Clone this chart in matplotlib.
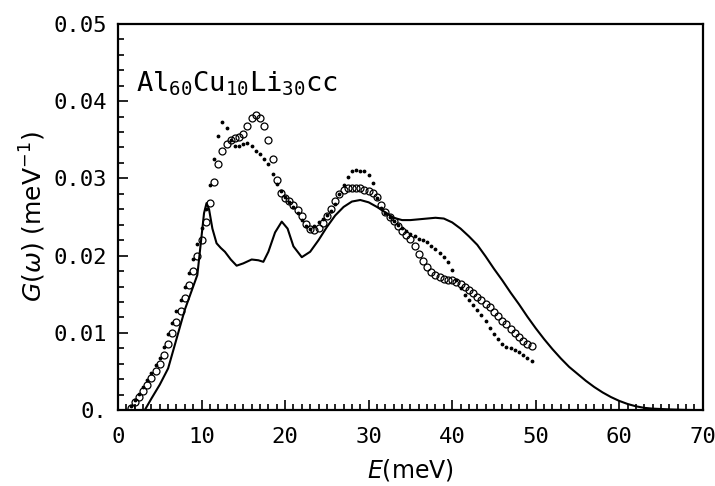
import numpy as np
import matplotlib.pyplot as plt
from matplotlib.ticker import MultipleLocator

# 计算曲线 (实线)
calc_E = [0, 3.2, 4, 5, 6, 7, 8, 8.5, 9, 9.5, 10, 10.3, 10.6, 10.9, 11.3, 11.8, 12.3, 12.8,
          13.5, 14.2, 15, 16, 16.8, 17.4, 18, 18.8, 19.6, 20.3, 21, 22, 23, 24, 25, 26, 27, 28,
          29, 30, 31, 32, 33, 34, 35, 36, 37, 38, 39, 40, 41, 42, 43, 44, 45, 46, 47, 48, 49,
          50, 51, 52, 53, 54, 55, 56, 57, 58, 59, 60, 61, 62, 63, 64, 66, 68, 70]
calc_G = [0, 0, 0.0015, 0.0033, 0.0054, 0.0092, 0.013, 0.0145, 0.016, 0.0175, 0.0225,
          0.0255, 0.0268, 0.026, 0.0235, 0.0216, 0.021, 0.0205, 0.0195, 0.0187, 0.019, 0.0195,
          0.0194, 0.0192, 0.0205, 0.023, 0.0244, 0.0235, 0.0212, 0.0198, 0.0205, 0.022, 0.0237,
          0.0252, 0.0263, 0.027, 0.0272, 0.0269, 0.0263, 0.0256, 0.0249, 0.0246, 0.0246, 0.0247,
          0.0248, 0.0249, 0.0248, 0.0243, 0.0235, 0.0225, 0.0214, 0.0199, 0.0183, 0.0168,
          0.0152, 0.0137, 0.0121, 0.0106, 0.0092, 0.0079, 0.0067, 0.0056, 0.0047, 0.0038,
          0.003, 0.0023, 0.0017, 0.0012, 0.0008, 0.0005, 0.0003, 0.0002, 0.0001, 0.00003, 0]

# 实验点 (实心小点)
dot_E = [1.0, 1.5, 2.0, 2.5, 3.0, 3.5, 4.0, 4.5, 5.0, 5.5, 6.0, 6.5, 7.0, 7.5, 8.0, 8.5, 9.0,
         9.5, 10.0, 10.5, 11.0, 11.5, 12.0, 12.5, 13.0, 13.5, 14.0, 14.5, 15.0, 15.5, 16.0,
         16.5, 17.0, 17.5, 18.0, 18.5, 19.0, 19.5, 20.0, 20.5, 21.0, 21.5, 22.0, 22.5, 23.0,
         23.5, 24.0, 24.5, 25.0, 25.5, 26.0, 26.5, 27.0, 27.5, 28.0, 28.5, 29.0, 29.5, 30.0,
         30.5, 31.0, 31.5, 32.0, 32.5, 33.0, 33.5, 34.0, 34.5, 35.0, 35.5, 36.0, 36.5, 37.0,
         37.5, 38.0, 38.5, 39.0, 39.5, 40.0, 40.5, 41.0, 41.5, 42.0, 42.5, 43.0, 43.5, 44.0,
         44.5, 45.0, 45.5, 46.0, 46.5, 47.0, 47.5, 48.0, 48.5, 49.0, 49.5]
dot_G = [0.0, 0.0006, 0.0013, 0.0021, 0.003, 0.0039, 0.0048, 0.0058, 0.0068, 0.0082, 0.0098,
         0.0113, 0.0128, 0.0143, 0.016, 0.0177, 0.0195, 0.0215, 0.0236, 0.026, 0.0292, 0.0325,
         0.0355, 0.0373, 0.0365, 0.035, 0.0342, 0.0342, 0.0345, 0.0346, 0.0342, 0.0336, 0.0331,
         0.0325, 0.0318, 0.0306, 0.0293, 0.0283, 0.0276, 0.027, 0.0263, 0.0255, 0.0246, 0.0238,
         0.0235, 0.0238, 0.0243, 0.0248, 0.0252, 0.0258, 0.0267, 0.028, 0.0292, 0.0302, 0.0309,
         0.0311, 0.031, 0.0309, 0.0304, 0.0294, 0.0275, 0.0262, 0.0255, 0.025, 0.0245, 0.024,
         0.0236, 0.0232, 0.0228, 0.0225, 0.0222, 0.022, 0.0217, 0.0213, 0.0208, 0.0203, 0.0198,
         0.0192, 0.0182, 0.0168, 0.0158, 0.0149, 0.0142, 0.0136, 0.013, 0.0123, 0.0115, 0.0106,
         0.0098, 0.0092, 0.0086, 0.0082, 0.008, 0.0078, 0.0075, 0.0071, 0.0067, 0.0064]

# 实验点 (空心圆)
circ_E = [1.5, 2.0, 2.5, 3.0, 3.5, 4.0, 4.5, 5.0, 5.5, 6.0, 6.5, 7.0, 7.5, 8.0, 8.5, 9.0, 9.5,
          10.0, 10.5, 11.0, 11.5, 12.0, 12.5, 13.0, 13.5, 14.0, 14.5, 15.0, 15.5, 16.0, 16.5,
          17.0, 17.5, 18.0, 18.5, 19.0, 19.5, 20.0, 20.5, 21.0, 21.5, 22.0, 22.5, 23.0, 23.5,
          24.0, 24.5, 25.0, 25.5, 26.0, 26.5, 27.0, 27.5, 28.0, 28.5, 29.0, 29.5, 30.0, 30.5,
          31.0, 31.5, 32.0, 32.5, 33.0, 33.5, 34.0, 34.5, 35.0, 35.5, 36.0, 36.5, 37.0, 37.5,
          38.0, 38.5, 39.0, 39.5, 40.0, 40.5, 41.0, 41.5, 42.0, 42.5, 43.0, 43.5, 44.0, 44.5,
          45.0, 45.5, 46.0, 46.5, 47.0, 47.5, 48.0, 48.5, 49.0, 49.5]
circ_G = [0.0003, 0.001, 0.0017, 0.0025, 0.0033, 0.0042, 0.0051, 0.006, 0.0072, 0.0086, 0.01,
          0.0114, 0.0129, 0.0145, 0.0162, 0.018, 0.0199, 0.022, 0.0243, 0.0268, 0.0295, 0.0318,
          0.0335, 0.0345, 0.035, 0.0352, 0.0353, 0.0358, 0.0368, 0.0378, 0.0382, 0.0378, 0.0368,
          0.035, 0.0325, 0.0298, 0.0281, 0.0275, 0.0271, 0.0266, 0.0259, 0.0251, 0.0241, 0.0234,
          0.0233, 0.0236, 0.0242, 0.0251, 0.026, 0.0271, 0.028, 0.0285, 0.0287, 0.0288, 0.0288,
          0.0287, 0.0285, 0.0283, 0.0281, 0.0276, 0.0266, 0.0256, 0.025, 0.0245, 0.0238, 0.0232,
          0.0227, 0.0221, 0.0212, 0.0202, 0.0193, 0.0185, 0.0179, 0.0175, 0.0172, 0.017, 0.0169,
          0.0168, 0.0166, 0.0163, 0.016, 0.0156, 0.0152, 0.0147, 0.0142, 0.0138, 0.0133, 0.0127,
          0.0122, 0.0116, 0.0111, 0.0105, 0.01, 0.0095, 0.009, 0.0086, 0.0083]

x_ticks = [0, 10, 20, 30, 40, 50, 60, 70]
y_ticks = [0, 0.01, 0.02, 0.03, 0.04, 0.05]
y_ticklabels = ['0.', '0.01', '0.02', '0.03', '0.04', '0.05']

fig = plt.figure(figsize=(7.15, 4.86), dpi=100)
ax = fig.add_axes([0.165, 0.156, 0.818, 0.795])

ax.plot(calc_E, calc_G, color='black', lw=1.5)
ax.plot(circ_E, circ_G, 'o', mfc='none', mec='black', ms=5, mew=0.9)
ax.plot(dot_E, dot_G, '.', color='black', ms=3.5)

ax.set_xlim(0, 70)
ax.set_ylim(0, 0.05)
ax.set_xticks(x_ticks)
ax.set_yticks(y_ticks)
ax.set_yticklabels(y_ticklabels)
ax.xaxis.set_minor_locator(MultipleLocator(1))
ax.yaxis.set_minor_locator(MultipleLocator(0.002))
ax.tick_params(which='both', direction='in', top=False, right=False, width=1.2)
ax.tick_params(which='major', length=7)
ax.tick_params(which='minor', length=4)
ax.tick_params(axis='x', pad=12)
ax.tick_params(axis='y', pad=8)
for lab in ax.get_xticklabels() + ax.get_yticklabels():
    lab.set_family('DejaVu Sans Mono')
    lab.set_fontsize(16)
for s in ax.spines.values():
    s.set_linewidth(1.6)

ax.set_xlabel(r'$E$(meV)', fontsize=17, labelpad=7)
ax.set_ylabel(r'$G(\omega)$ (meV$^{-1}$)', fontsize=18, labelpad=4)
ax.text(0.03, 0.845, r'$\mathtt{Al_{60}Cu_{10}Li_{30}cc}$', transform=ax.transAxes,
        fontsize=19.5, va='center', ha='left')

fig.savefig('out.png', dpi=100)
